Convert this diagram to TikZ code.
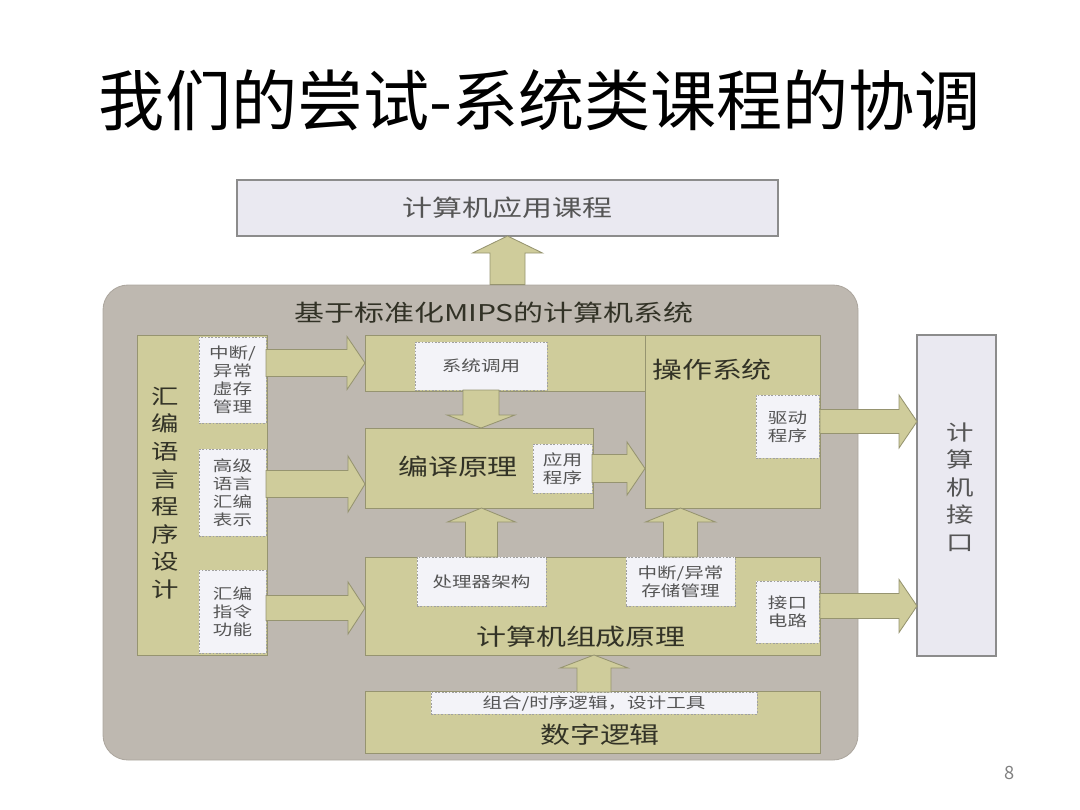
\documentclass[tikz,border=0pt]{standalone}
\usepackage{fontspec}
\setmainfont{Noto Sans CJK SC}
\newfontfamily\dfont[FakeStretch=1.3]{Noto Sans CJK SC}
\usetikzlibrary{calc}
\newcommand\pxu{0.025cm}
\newcommand\smalltxt{\dfont\fontsize{10.7}{12.8}\selectfont}
\newcommand\labeltxt{\dfont\fontsize{16.4}{20}\selectfont}
\newcommand\verttxt{\dfont\fontsize{15}{19.6}\selectfont}
\definecolor{cgray}{RGB}{190,184,176}
\definecolor{cgrayb}{RGB}{172,166,158}
\definecolor{olivef}{RGB}{207,204,155}
\definecolor{oliveb}{RGB}{150,148,112}
\definecolor{lightf}{RGB}{234,233,241}
\definecolor{lightb}{RGB}{140,140,140}
\definecolor{whitef}{RGB}{243,243,248}
\definecolor{whiteb}{RGB}{160,160,160}
\definecolor{txtd}{RGB}{50,50,38}
\definecolor{txtg}{RGB}{85,85,85}
\tikzset{
  sz/.style 2 args={minimum width=#1*\pxu, minimum height=#2*\pxu},
  olivebox/.style={draw=oliveb, fill=olivef, line width=0.6pt, inner sep=0pt, outer sep=0pt},
  lightbox/.style={draw=lightb, fill=lightf, line width=0.8pt, inner sep=0pt, outer sep=0pt, text=txtg, align=center},
  whitebox/.style={draw=whiteb, fill=whitef, dash pattern=on 1.2pt off 1.2pt, line width=0.5pt, inner sep=0pt, outer sep=0pt, font=\smalltxt, text=txtg, align=center},
  mainlbl/.style={font=\labeltxt, text=txtd, inner sep=0pt},
  vertlbl/.style={font=\verttxt, text=txtd, align=center, inner sep=0pt},
  barrow/.style={draw=oliveb, fill=olivef, line width=0.6pt, line join=miter}
}
% block arrows: #1 start, #2 end (tip), #3 half shaft, #4 half head, #5 head length (px)
\newcommand\arrowright[5]{\draw[barrow] let \p1=#1, \p2=#2 in
  (\x1,\y2+#3*\pxu) -- (\x2-#5*\pxu,\y2+#3*\pxu) -- (\x2-#5*\pxu,\y2+#4*\pxu) -- (\x2,\y2)
  -- (\x2-#5*\pxu,\y2-#4*\pxu) -- (\x2-#5*\pxu,\y2-#3*\pxu) -- (\x1,\y2-#3*\pxu) -- cycle;}
\newcommand\arrowup[5]{\draw[barrow] let \p1=#1, \p2=#2 in
  (\x2+#3*\pxu,\y1) -- (\x2+#3*\pxu,\y2-#5*\pxu) -- (\x2+#4*\pxu,\y2-#5*\pxu) -- (\x2,\y2)
  -- (\x2-#4*\pxu,\y2-#5*\pxu) -- (\x2-#3*\pxu,\y2-#5*\pxu) -- (\x2-#3*\pxu,\y1) -- cycle;}
\newcommand\arrowdown[5]{\draw[barrow] let \p1=#1, \p2=#2 in
  (\x2+#3*\pxu,\y1) -- (\x2+#3*\pxu,\y2+#5*\pxu) -- (\x2+#4*\pxu,\y2+#5*\pxu) -- (\x2,\y2)
  -- (\x2-#4*\pxu,\y2+#5*\pxu) -- (\x2-#3*\pxu,\y2+#5*\pxu) -- (\x2-#3*\pxu,\y1) -- cycle;}
\begin{document}
\begin{tikzpicture}[x=0.025cm, y=-0.025cm]
\useasboundingbox (0,0) rectangle (1080,810);
% title
\node[font=\fontsize{47}{52}\selectfont, inner sep=0pt] (title) at (540,100) {我们的尝试-系统类课程的协调};
% top application box
\node[lightbox, sz={541}{56}, font=\labeltxt] (app) at (507.5,208) {计算机应用课程};
% gray container
\node[fill=cgray, draw=cgrayb, line width=0.6pt, rounded corners=0.625cm, sz={755}{475}, inner sep=0pt] (sys) at (480.5,522.5) {};
\node[mainlbl] (systitle) at (494,313) {基于标准化MIPS的计算机系统};
% left column
\node[olivebox, sz={130}{320}] (asm) at (202,495) {};
\node[vertlbl] (asmtxt) at (165,493) {汇\\编\\语\\言\\程\\序\\设\\计};
\node[whitebox, sz={67}{86}] (asma) at (232.5,380) {中断/\\异常\\虚存\\管理};
\node[whitebox, sz={67}{87}] (asmb) at (232.5,492.5) {高级\\语言\\汇编\\表示};
\node[whitebox, sz={67}{83}] (asmc) at (232.5,611.5) {汇编\\指令\\功能};
% middle top band and OS
\node[olivebox, sz={280}{56}] (band) at (505,363) {};
\node[whitebox, sz={132}{48}] (syscall) at (481,366) {系统调用};
\node[olivebox, sz={175}{173}] (os) at (732.5,421.5) {};
\node[mainlbl] (ostxt) at (712,370) {操作系统};
\node[whitebox, sz={63}{63}] (driver) at (787.5,426.5) {驱动\\程序};
% compile
\node[olivebox, sz={228}{80}] (comp) at (479,468) {};
\node[mainlbl] (comptxt) at (458,467) {编译原理};
\node[whitebox, sz={59}{49}] (apps) at (562.5,468.5) {应用\\程序};
% organization
\node[olivebox, sz={455}{98}] (org) at (592.5,606) {};
\node[mainlbl] (orgtxt) at (581,637) {计算机组成原理};
\node[whitebox, sz={129}{49}] (cpu) at (481.5,581.5) {处理器架构};
\node[whitebox, sz={109}{49}] (intr) at (680.5,581.5) {中断/异常\\存储管理};
\node[whitebox, sz={63}{62}] (ifc) at (787.5,612) {接口\\电路};
% digital logic
\node[olivebox, sz={455}{62}] (dig) at (592.5,722) {};
\node[whitebox, sz={326}{22}] (digw) at (594,703) {组合/时序逻辑，设计工具};
\node[mainlbl] (digtxt) at (600,735) {数字逻辑};
% computer interface
\node[lightbox, sz={79}{321}] (cif) at (956.5,495.5) {};
\node[vertlbl, text=txtg] (ciftxt) at (960,487) {计\\算\\机\\接\\口};
% page number
\node[font=\fontsize{13}{15}\selectfont, text=gray, inner sep=0pt] (page) at (1010,773) {8};
% arrows
\arrowup{(sys.north -| app.south)}{(app.south)}{17.5}{35}{17}
\arrowright{(asma.east)}{(band.west)}{13.5}{26.5}{18}
\arrowright{(asmb.east)}{($(comp.west)+(0,16)$)}{13.5}{28}{17}
\arrowright{(asmc.east)}{($(org.west)+(0,2)$)}{12.5}{26}{17}
\arrowdown{(syscall.south)}{(comp.north -| syscall.south)}{18}{34}{13}
\arrowup{(cpu.north)}{(comp.south -| cpu.north)}{16}{34}{14}
\arrowright{(apps.east)}{(os.west |- apps.east)}{14}{26.5}{18}
\arrowup{(intr.north)}{(os.south -| intr.north)}{17}{35}{14}
\arrowup{(digw.north)}{(org.south -| digw.north)}{17}{34}{13}
\arrowright{(os.east |- driver.east)}{($(cif.west |- driver.east)+(0,-5)$)}{12}{26.5}{18}
\arrowright{(org.east |- ifc.east)}{($(cif.west |- ifc.east)+(0,-6)$)}{12.5}{26.5}{18}
\end{tikzpicture}
\end{document}
